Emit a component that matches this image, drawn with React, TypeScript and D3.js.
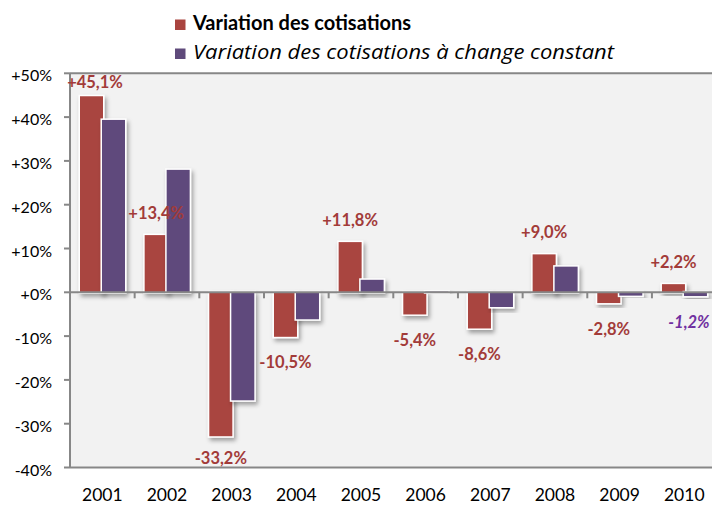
import React from "react";
import * as d3 from "d3";

const years = ["2001", "2002", "2003", "2004", "2005", "2006", "2007", "2008", "2009", "2010"];
const variation = [45.1, 13.4, -33.2, -10.5, 11.8, -5.4, -8.6, 9.0, -2.8, 2.2];
const variationConstant = [39.7, 28.3, -25.0, -6.5, 3.2, 0.5, -3.7, 6.2, -1.1, -1.2];
const yTicks = [50, 40, 30, 20, 10, 0, -10, -20, -30, -40];
const seriesNames = ["Variation des cotisations", "Variation des cotisations à change constant"];
const redLabels = ["+45,1%", "+13,4%", "-33,2%", "-10,5%", "+11,8%", "-5,4%", "-8,6%", "+9,0%", "-2,8%", "+2,2%"];
const purpleLabels = ["", "", "", "", "", "", "", "", "", "-1,2%"];

const W = 712;
const H = 505;
const RED = "#a9443f";
const PURPLE = "#5f4a7b";
const LABEL_RED = "#a23b39";
const LABEL_PURPLE = "#7030a0";
const AXIS = "#878787";
const FONT = "Lato, 'Open Sans', sans-serif";

export default function App() {
  const left = 70;
  const top = 73.3;
  const bottom = 467.5;
  const x = d3.scaleBand<string>().domain(years).range([left, left + 64.66 * years.length]).padding(0);
  const y = d3.scaleLinear().domain([-40, 50]).range([bottom, top]);
  const inner = d3.scalePoint<string>().domain(["a", "b"]).range([8.5, 30.5]);
  const barW = 26;
  const sw = 1.5;

  const bar = (v: number, i: number, s: string, color: string) => {
    const x0 = (x(years[i]) as number) + (inner(s) as number);
    const y0 = y(Math.max(v, 0));
    const y1 = y(Math.min(v, 0));
    return (
      <rect
        key={s + i}
        x={x0 + sw / 2}
        y={y0 + (v >= 0 ? sw / 2 : -sw / 2)}
        width={barW - sw}
        height={Math.max(0.5, y1 - y0)}
        fill={color}
        stroke="#ffffff"
        strokeWidth={sw}
        filter="url(#shadow)"
      />
    );
  };

  const label = (v: number, i: number, s: string, text: string, color: string, italic: boolean) => {
    if (!text) return null;
    const cx = (x(years[i]) as number) + (inner(s) as number) + barW / 2;
    let cy = v >= 0 ? y(v) - 21 : y(v) + 24;
    cy = Math.max(82, Math.min(458, cy));
    const cxx = Math.min(689, Math.max(95, cx));
    return (
      <text
        key={"l" + s + i}
        x={cxx}
        y={cy}
        textAnchor="middle"
        dominantBaseline="central"
        fontFamily={FONT}
        fontWeight="bold"
        fontStyle={italic ? "italic" : "normal"}
        fontSize={16.5}
        fill={color}
      >
        {text}
      </text>
    );
  };

  return (
    <svg
      width={W}
      height={H}
      style={{ position: "absolute", left: 0, top: 0, background: "#ffffff" }}
    >
      <defs>
        <filter id="shadow" x="-30%" y="-30%" width="160%" height="160%">
          <feDropShadow dx="2" dy="3" stdDeviation="2" floodColor="#000" floodOpacity="0.35" />
        </filter>
      </defs>
      <rect x={0} y={0} width={W} height={H} fill="#ffffff" />
      {/* legend */}
      <rect x={175} y={19.5} width={10.5} height={10.5} fill={RED} />
      <text x={193} y={30} fontFamily={FONT} fontWeight="bold" fontSize={20} fill="#000">
        {seriesNames[0]}
      </text>
      <rect x={175} y={48.5} width={10.5} height={10.5} fill={PURPLE} />
      <text
        x={193}
        y={59}
        fontFamily="'Open Sans', Lato, sans-serif"
        fontStyle="italic"
        fontSize={19.5}
        fill="#000"
        textLength={421}
        lengthAdjust="spacingAndGlyphs"
      >
        {seriesNames[1]}
      </text>

      {/* plot area */}
      <rect x={left} y={top} width={W - left + 10} height={bottom - top} fill="#f2f2f2" />
      <line x1={left} x2={W + 10} y1={top} y2={top} stroke={AXIS} strokeWidth={2} />
      <line x1={left} x2={W + 10} y1={bottom} y2={bottom} stroke={AXIS} strokeWidth={2} />

      {/* bars */}
      {years.map((_, i) => (
        <g key={"g" + i}>
          {bar(variation[i], i, "a", RED)}
          {bar(variationConstant[i], i, "b", PURPLE)}
        </g>
      ))}

      {/* zero axis with category ticks */}
      <line x1={left} x2={W + 10} y1={y(0)} y2={y(0)} stroke={AXIS} strokeWidth={2} />
      {years.slice(1).map((yr) => (
        <line
          key={"t" + yr}
          x1={x(yr) as number}
          x2={x(yr) as number}
          y1={y(0)}
          y2={y(0) + 6}
          stroke={AXIS}
          strokeWidth={2}
        />
      ))}

      {/* y axis */}
      <line x1={left} x2={left} y1={top} y2={bottom} stroke={AXIS} strokeWidth={2} />
      {yTicks.map((t) => (
        <g key={"y" + t}>
          <line x1={left - 6} x2={left} y1={y(t)} y2={y(t)} stroke={AXIS} strokeWidth={2} />
          <text
            x={52}
            y={y(t) + 1.5}
            textAnchor="end"
            dominantBaseline="central"
            fontFamily={FONT}
            fontSize={16}
            fill="#000"
          >
            {(t >= 0 ? "+" : "") + t + "%"}
          </text>
        </g>
      ))}

      {/* category labels */}
      {years.map((yr) => (
        <text
          key={"c" + yr}
          x={(x(yr) as number) + x.bandwidth() / 2}
          y={501}
          textAnchor="middle"
          fontFamily={FONT}
          fontSize={17.5}
          fill="#000"
        >
          {yr}
        </text>
      ))}

      {/* data labels */}
      {years.map((_, i) => label(variation[i], i, "a", redLabels[i], LABEL_RED, false))}
      {years.map((_, i) => label(variationConstant[i], i, "b", purpleLabels[i], LABEL_PURPLE, true))}
    </svg>
  );
}
